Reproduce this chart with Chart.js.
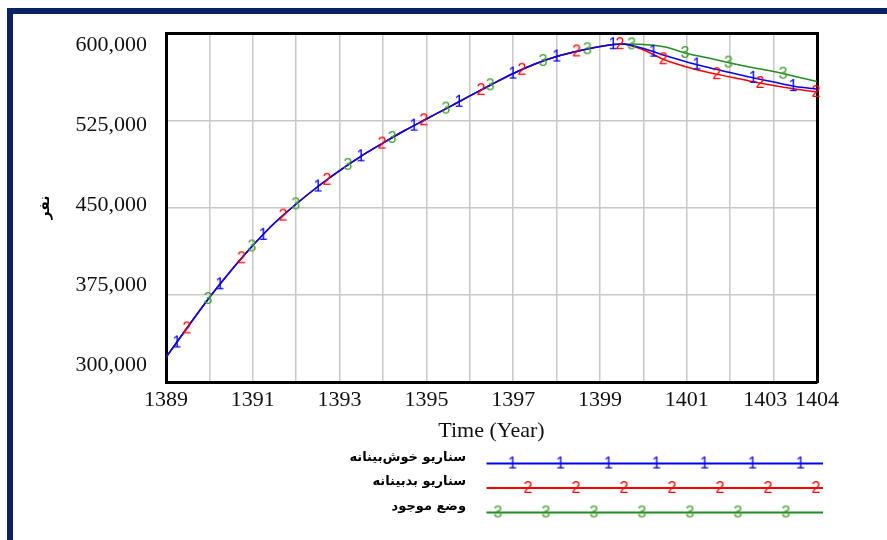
<!DOCTYPE html>
<html>
<head>
<meta charset="utf-8">
<title>Population scenarios 1389-1404</title>
<script src="https://cdn.jsdelivr.net/npm/chart.js"></script>
<style>
  html, body { margin: 0; padding: 0; background: #fff; overflow: hidden; }
  #frame { position: absolute; left: 7px; top: 8px; width: 1000px; height: 700px;
           border-left: 6px solid #0a2260; border-top: 6px solid #0a2260; }
  #chart { position: absolute; left: 0; top: 0; direction: ltr; }
</style>
</head>
<body>
<div id="frame"></div>
<canvas id="chart" width="887" height="540"></canvas>
<script>
// values, every half year
const years = [1389, 1389.5, 1390, 1390.5, 1391, 1391.5, 1392, 1392.5, 1393, 1393.5,
  1394, 1394.5, 1395, 1395.5, 1396, 1396.5, 1397, 1397.5, 1398, 1398.5,
  1399, 1399.5, 1400, 1400.5, 1401, 1401.5, 1402, 1402.5, 1403, 1403.5, 1404];

const optimistic = [321300, 347400, 372900, 396200, 417700, 437100, 453500, 468600, 482400, 494900,
  506100, 516900, 526800, 536700, 546700, 556600, 566100, 574300, 580700, 585500,
  589400, 591500, 587600, 581600, 576000, 571200, 566900, 562600, 558700, 554900, 552700];

const pessimistic = [321300, 347400, 372900, 396200, 417700, 437100, 453500, 468600, 482400, 494900,
  506100, 516900, 526800, 536700, 546700, 556600, 566100, 574300, 580700, 585500,
  589400, 591500, 586300, 577700, 571700, 566900, 563100, 559200, 555700, 552700, 550100];

const current = [321300, 347400, 372900, 396200, 417700, 437100, 453500, 468600, 482400, 494900,
  506100, 516900, 526800, 536700, 546700, 556600, 566100, 574300, 580700, 585500,
  589400, 591500, 591100, 588900, 583300, 579400, 575100, 571200, 567800, 563500, 559200];

// where the numbered markers sit on each curve
const optimisticMarkYears = [1389.25, 1390.24, 1391.24, 1392.5, 1393.49, 1394.71, 1395.75,
  1396.99, 1398.0, 1399.3, 1400.23, 1401.23, 1402.53, 1403.45];
const optimisticMarkValues = [334100, 384300, 426900, 468600, 494700, 521100, 541700,
  566000, 580700, 591300, 584900, 573800, 562400, 555200];

const pessimisticMarkYears = [1389.48, 1390.74, 1391.7, 1392.71, 1393.98, 1394.94, 1396.26,
  1397.2, 1398.46, 1399.46, 1400.46, 1401.69, 1402.69, 1403.98];
const pessimisticMarkValues = [346200, 406700, 443500, 474400, 505600, 525700, 551800,
  569300, 585100, 591400, 578400, 565500, 557900, 550200];

const currentMarkYears = [1389.97, 1390.98, 1391.99, 1393.19, 1394.21, 1395.45, 1396.47,
  1397.69, 1398.71, 1399.73, 1400.96, 1401.96, 1403.22];
const currentMarkValues = [371600, 416900, 453300, 487300, 510500, 535800, 555900,
  576800, 587000, 591200, 583800, 575500, 565900];

const seriesNames = ['سناریو خوش‌بینانه', 'سناریو بدبینانه', 'وضع موجود'];
const xTicks = [1389, 1390, 1391, 1392, 1393, 1394, 1395, 1396, 1397, 1398, 1399, 1400, 1401, 1402, 1403, 1404];
const xLabels = [1389, 1391, 1393, 1395, 1397, 1399, 1401, 1403, 1404];
const yTicks = [300000, 375000, 450000, 525000, 600000];

const BLUE = '#0000ff', RED = '#ff0000', GREEN = '#1f8f1f', GREEN_DIGIT = '#3f9f2f';
const serif = '"Liberation Serif", "Times New Roman", serif';
const digitFont = '16px "Liberation Sans", Arial, sans-serif';

function digitImage(digit, color) {
  const c = document.createElement('canvas');
  c.width = 14; c.height = 20;
  const g = c.getContext('2d');
  g.font = digitFont;
  g.fillStyle = color;
  g.textAlign = 'center';
  g.textBaseline = 'middle';
  g.fillText(digit, 7, 10.5);
  return c;
}

// legend sample: line with repeated digit, drawn a bit under the text middle
function legendImage(digit, lineColor, digitColor, first) {
  const c = document.createElement('canvas');
  c.width = 350; c.height = 30;
  const g = c.getContext('2d');
  g.strokeStyle = lineColor;
  g.lineWidth = 2;
  g.beginPath(); g.moveTo(14, 21); g.lineTo(350, 21); g.stroke();
  g.font = digitFont;
  g.fillStyle = digitColor;
  g.textAlign = 'center';
  g.textBaseline = 'middle';
  for (let px = first; px < 340; px += 48) g.fillText(digit, 14 + px, 21.5);
  return c;
}

const legendImages = [
  legendImage('1', BLUE, BLUE, 26),
  legendImage('2', RED, RED, 41.5),
  legendImage('3', GREEN, GREEN_DIGIT, 11.5),
];

function lineSet(label, values, color) {
  return {
    label,
    data: years.map((x, i) => ({ x, y: values[i] })),
    borderColor: color,
    borderWidth: 1.5,
    pointRadius: 0,
    cubicInterpolationMode: 'monotone',
    fill: false,
    order: 1,
    xAxisID: 'x',
    yAxisID: 'y',
  };
}

function markSet(xs, ys, digit, color) {
  return {
    label: 'marks ' + digit,
    data: xs.map((x, i) => ({ x, y: ys[i] })),
    showLine: false,
    pointStyle: digitImage(digit, color),
    pointRadius: 4,
    clip: false,
    order: 0,
    xAxisID: 'x',
    yAxisID: 'y',
  };
}

new Chart(document.getElementById('chart'), {
  type: 'line',
  data: {
    datasets: [
      lineSet(seriesNames[0], optimistic, BLUE),
      lineSet(seriesNames[1], pessimistic, RED),
      lineSet(seriesNames[2], current, GREEN),
      markSet(optimisticMarkYears, optimisticMarkValues, '1', BLUE),
      markSet(pessimisticMarkYears, pessimisticMarkValues, '2', RED),
      markSet(currentMarkYears, currentMarkValues, '3', GREEN_DIGIT),
    ],
  },
  options: {
    responsive: false,
    animation: false,
    events: [],
    layout: { padding: { top: 33, right: 53, bottom: 17, left: 0 } },
    plugins: {
      tooltip: { enabled: false },
      legend: {
        position: 'bottom',
        align: 'start',
        rtl: true,
        labels: {
          usePointStyle: true,
          pointStyleWidth: 350,
          padding: 11.5,
          color: '#000',
          font: { family: '"DejaVu Sans", sans-serif', size: 13, weight: 'bold' },
          generateLabels: () => seriesNames.map((name, i) => ({
            text: name,
            pointStyle: legendImages[i],
            fillStyle: 'rgba(0,0,0,0)',
            strokeStyle: 'rgba(0,0,0,0)',
            lineWidth: 0,
            hidden: false,
            datasetIndex: i,
          })),
        },
      },
    },
    scales: {
      x: {
        type: 'linear',
        position: 'bottom',
        weight: 0,
        min: 1389,
        max: 1404,
        afterBuildTicks: (s) => { s.ticks = xTicks.map(v => ({ value: v })); },
        afterFit: (s) => { s.height = 57.5; },
        grid: { color: '#c8c8c8', lineWidth: 1.5, drawTicks: false },
        border: { color: '#000', width: 3 },
        ticks: {
          autoSkip: false,
          maxRotation: 0,
          padding: 5,
          color: '#111',
          font: { family: serif, size: 22 },
          // 1403 is nudged left so it does not run into 1404, as in the original
          callback: (v) => v === 1403 ? '\u20661403\u00a0\u00a0\u00a0\u2069' : (xLabels.includes(v) ? String(v) : ''),
        },
        title: {
          display: true,
          text: 'Time (Year)',
          color: '#111',
          font: { family: serif, size: 22, lineHeight: 1 },
          padding: { top: 0, bottom: -2.5 },
        },
      },
      xTop: {
        type: 'linear',
        position: 'top',
        min: 0,
        max: 1,
        afterFit: (s) => { s.height = 0; },
        ticks: { display: false },
        grid: { display: false },
        border: { color: '#000', width: 3 },
      },
      y: {
        type: 'linear',
        position: 'left',
        weight: 0,
        min: 300000,
        max: 601000,
        afterBuildTicks: (s) => { s.ticks = yTicks.map(v => ({ value: v })); },
        afterFit: (s) => { s.width = 0; },
        ticks: { display: false },
        grid: { color: '#c8c8c8', lineWidth: 1.5, drawTicks: false },
        border: { color: '#000', width: 3 },
      },
      // labels only: spaced like the original, slightly apart from the grid lines
      yLabels: {
        type: 'linear',
        position: 'left',
        weight: 1,
        min: 284062.5,
        max: 611250,
        afterBuildTicks: (s) => { s.ticks = yTicks.map(v => ({ value: v })); },
        afterFit: (s) => { s.width = 166; },
        grid: { display: false, drawTicks: false },
        border: { display: false },
        ticks: {
          padding: 19,
          color: '#111',
          font: { family: serif, size: 22 },
          callback: (v) => v.toLocaleString('en-US'),
        },
        title: {
          display: true,
          text: 'نفر',
          color: '#000',
          font: { family: '"DejaVu Sans", sans-serif', size: 14, weight: 'bold' },
          padding: { top: 36.6, bottom: 0 },
        },
      },
      yRight: {
        type: 'linear',
        position: 'right',
        min: 0,
        max: 1,
        afterFit: (s) => { s.width = 17; },
        ticks: { display: false },
        grid: { display: false },
        border: { color: '#000', width: 3 },
      },
    },
  },
});
</script>
</body>
</html>
